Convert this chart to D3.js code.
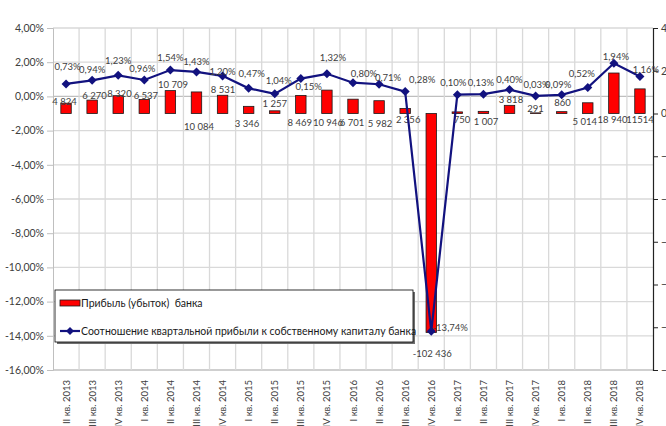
<!DOCTYPE html>
<html><head><meta charset="utf-8">
<script src="https://cdn.jsdelivr.net/npm/d3@7"></script>
<style>
body{margin:0;background:#fff;overflow:hidden}
svg{display:block}
text{font-family:Lato,"Liberation Sans",sans-serif}
</style>
</head><body><svg id="c" width="666" height="426"></svg>
<script>
// ---------- DATA ----------
const categories = ["II кв. 2013","III кв. 2013","IV кв. 2013","I кв. 2014","II кв. 2014","III кв. 2014","IV кв. 2014","I кв. 2015","II кв. 2015","III кв. 2015","IV кв. 2015","I кв. 2016","II кв. 2016","III кв. 2016","IV кв. 2016","I кв. 2017","II кв. 2017","III кв. 2017","IV кв. 2017","I кв. 2018","II кв. 2018","III кв. 2018","IV кв. 2018"];
const profit = [4824,6270,8320,6537,10709,10084,8531,3346,1257,8469,10946,6701,5982,2356,-102436,750,1007,3818,291,860,5014,18940,11514];
const profitLabels = ["4 824","6 270","8 320","6 537","10 709","10 084","8 531","3 346","1 257","8 469","10 946","6 701","5 982","2 356","-102 436","750","1 007","3 818","291","860","5 014","18 940","11514"];
const ratio = [0.73,0.94,1.23,0.96,1.54,1.43,1.20,0.47,0.15,1.04,1.32,0.80,0.71,0.28,-13.74,0.10,0.13,0.40,0.03,0.09,0.52,1.94,1.16];
const leftTicks = [4,2,0,-2,-4,-6,-8,-10,-12,-14,-16];
const rightTicks = [40000,20000,0,-20000,-40000,-60000,-80000,-100000,-120000];
const seriesNames = ["Прибыль (убыток)  банка","Соотношение квартальной прибыли к собственному капиталу банка"];

// ---------- LAYOUT (label placement, as in the original) ----------
const lineLabelOff = [[1.5,-17],[0,-11],[0,-15],[-2,-11],[0,-12],[0,-10],[0,-4],[3,-15],[34,-7],[-22,2],[6,-16],[11,-9],[9,-7],[17,-12],[19,-4],[-4,-12],[-2.5,-11.5],[0,-10],[1,-11.6],[-3.5,-10.6],[-6,-14],[2,-6.5],[6,-7]];
// mode: 'a' = above bar end, 'b' = below baseline / bar end
const barLabelPos = [["a",-1.5,-1.5],["a",2.3,-4],["a",1.2,-2.4],["a",1.6,-3.5],["a",2.6,-5.6],["b",2.5,13],["a",0.4,-5.3],["b",-1.7,10.5],["a",0,-6.8],["b",-1,9.2],["b",1,9.2],["b",-1,9.2],["b",1,9.8],["b",3,6.5],["b",1,21],["b",4.6,6.5],["b",2.5,8.2],["a",1.4,-5.3],["a",0,-4.6],["a",0.7,-9],["b",-3,8.2],["b",-1.4,6.5],["b",0,6.5]];

const L = 53, R = 653, T = 28, B = 370;
const svg = d3.select("#c");

const x = d3.scaleBand().domain(categories).range([L, R]).paddingInner(0.6).paddingOuter(0.3);
const step = x.step();
const cx = c => x(c) + x.bandwidth() / 2;
const yL = d3.scaleLinear().domain([-16, 4]).range([B, T]);
const yR = d3.scaleLinear().domain([-120000, 40000]).range([B, T]);

const grid = "#d9d9d9";
// horizontal gridlines
svg.append("g").selectAll("line").data(leftTicks).join("line")
  .attr("x1", L).attr("x2", R).attr("y1", d => yL(d)).attr("y2", d => yL(d))
  .attr("stroke", d => (d === 0 || d === -16) ? "#bfbfbf" : grid).attr("stroke-width", 1.3);
// vertical gridlines
svg.append("g").selectAll("line").data(categories.slice(1)).join("line")
  .attr("x1", d => x(d) - step * 0.3).attr("x2", d => x(d) - step * 0.3)
  .attr("y1", T).attr("y2", B).attr("stroke", grid).attr("stroke-width", 1.3);

// left axis
const axL = svg.append("g").attr("transform", `translate(${L},0)`)
  .call(d3.axisLeft(yL).tickValues(leftTicks).tickSize(6).tickPadding(3)
    .tickFormat(d => d.toFixed(2).replace(".", ",") + "%"));
axL.select(".domain").attr("stroke", "#bfbfbf");
axL.selectAll(".tick line").attr("stroke", "#bfbfbf");
axL.selectAll("text").attr("font-family", "Lato").attr("font-size", 10.5).attr("fill", "#404040");

// right axis
const axR = svg.append("g").attr("transform", `translate(${R},0)`)
  .call(d3.axisRight(yR).tickValues(rightTicks).tickSize(5).tickPadding(3)
    .tickFormat(d => d3.format(",")(d).replace(/,/g, " ")));
axR.select(".domain").attr("stroke", "#222").attr("stroke-width", 1.2);
axR.selectAll(".tick line").attr("stroke", "#222");
axR.selectAll("text").attr("font-family", "Lato").attr("font-size", 10.5).attr("fill", "#404040");

// x labels
svg.append("g").selectAll("text").data(categories).join("text")
  .attr("transform", d => `translate(${cx(d) + 3.5},380) rotate(-90)`)
  .attr("text-anchor", "end").attr("font-size", 9.5).attr("fill", "#404040")
  .text(d => d);

// bars
svg.append("g").selectAll("rect").data(profit).join("rect")
  .attr("x", (d, i) => x(categories[i]))
  .attr("width", x.bandwidth())
  .attr("y", d => yR(Math.max(0, d)))
  .attr("height", d => Math.abs(yR(d) - yR(0)))
  .attr("fill", "#ff0000").attr("stroke", "#1a1a1a").attr("stroke-width", 0.8);

// bar labels
svg.append("g").selectAll("text").data(profit).join("text")
  .attr("x", (d, i) => cx(categories[i]) + barLabelPos[i][1])
  .attr("y", (d, i) => {
    const p = barLabelPos[i];
    const anchor = p[0] === "a" ? yR(Math.max(0, d)) : yR(Math.min(0, d));
    return anchor + p[2];
  })
  .attr("dy", "0.35em").attr("text-anchor", "middle")
  .attr("font-size", 9.5).attr("fill", "#404040")
  .text((d, i) => profitLabels[i]);

// line
const lineColor = "#12127f";
svg.append("path").datum(ratio)
  .attr("d", d3.line().x((d, i) => cx(categories[i])).y(d => yL(d)))
  .attr("fill", "none").attr("stroke", lineColor).attr("stroke-width", 2.2);
svg.append("g").selectAll("path").data(ratio).join("path")
  .attr("transform", (d, i) => `translate(${cx(categories[i])},${yL(d)})`)
  .attr("d", "M0,-4.5L4.5,0L0,4.5L-4.5,0Z").attr("fill", lineColor);

// line labels
svg.append("g").selectAll("text").data(ratio).join("text")
  .attr("x", (d, i) => cx(categories[i]) + lineLabelOff[i][0])
  .attr("y", (d, i) => yL(d) + lineLabelOff[i][1])
  .attr("dy", "0.35em").attr("text-anchor", "middle")
  .attr("font-size", 9.5).attr("fill", "#404040")
  .text(d => d.toFixed(2).replace(".", ",") + "%");

// legend
const lg = svg.append("g");
lg.append("rect").attr("x", 57).attr("y", 292).attr("width", 358).attr("height", 52).attr("fill", "#6e6e6e");
lg.append("rect").attr("x", 55).attr("y", 290).attr("width", 358).attr("height", 52)
  .attr("fill", "#fff").attr("stroke", "#000").attr("stroke-width", 0.8);
lg.append("rect").attr("x", 60).attr("y", 300).attr("width", 20).attr("height", 6)
  .attr("fill", "#ff0000").attr("stroke", "#1a1a1a").attr("stroke-width", 0.8);
lg.append("line").attr("x1", 60).attr("x2", 80).attr("y1", 331).attr("y2", 331)
  .attr("stroke", lineColor).attr("stroke-width", 2.2);
lg.append("path").attr("transform", "translate(70,331)").attr("d", "M0,-4L4,0L0,4L-4,0Z").attr("fill", lineColor);
lg.selectAll("text.lt").data(seriesNames).join("text").attr("class", "lt")
  .attr("x", 81).attr("y", (d, i) => i === 0 ? 303.5 : 331)
  .attr("dy", "0.35em").attr("font-size", 10.5).attr("fill", "#1a1a1a")
  .style("white-space", "pre")
  .text(d => d);
</script>
</body></html>
